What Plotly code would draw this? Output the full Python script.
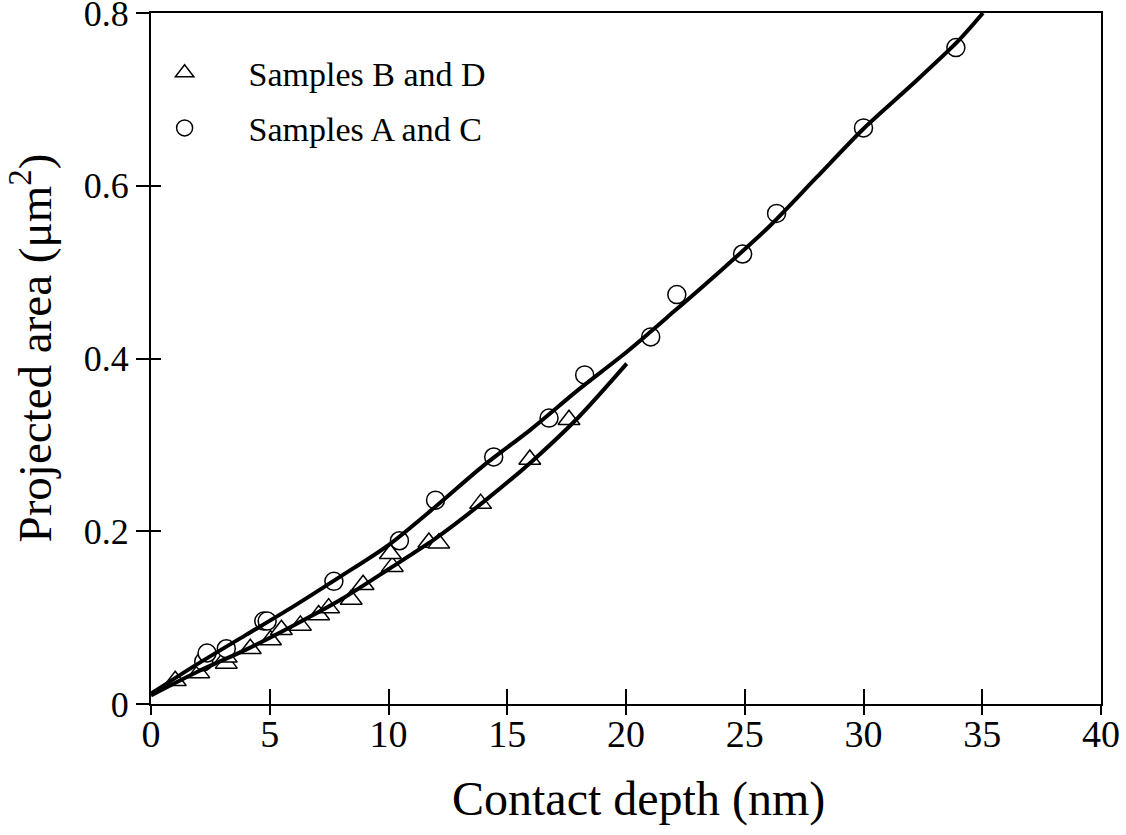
import plotly.graph_objects as go

# ---- data ----
circ_x = [2.22, 2.36, 3.17, 4.75, 4.89, 7.70, 10.46, 11.98, 14.43, 16.76, 18.26,
          21.04, 22.14, 24.91, 26.34, 30.00, 33.89]
circ_y = [0.049, 0.059, 0.064, 0.096, 0.096, 0.142, 0.189, 0.236, 0.286, 0.331, 0.381,
          0.425, 0.474, 0.521, 0.568, 0.667, 0.760]

tri_x = [1.02, 2.01, 3.17, 3.17, 4.18, 5.03, 5.49, 6.29, 7.06, 7.48, 8.43, 8.93,
         10.16, 10.08, 11.70, 12.12, 13.88, 15.95, 17.60]
tri_y = [0.027, 0.036, 0.047, 0.054, 0.064, 0.074, 0.086, 0.091, 0.103, 0.111, 0.121, 0.138,
         0.159, 0.174, 0.187, 0.186, 0.232, 0.283, 0.329]

fitAC_x = [0, 2, 4, 6, 8, 10, 12, 14, 16, 18, 20, 22, 24, 26, 28, 30, 32, 34, 35.03]
fitAC_y = [0.012, 0.047, 0.080, 0.113, 0.148, 0.184, 0.229, 0.276, 0.318, 0.364, 0.407,
           0.454, 0.502, 0.552, 0.609, 0.666, 0.716, 0.768, 0.800]

fitBD_x = [0, 2, 4, 6, 8, 10, 12, 14, 16, 18, 20.03]
fitBD_y = [0.010, 0.038, 0.063, 0.091, 0.121, 0.156, 0.192, 0.234, 0.280, 0.332, 0.394]

x_ticks = [0, 5, 10, 15, 20, 25, 30, 35, 40]
y_ticks = [0, 0.2, 0.4, 0.6, 0.8]
y_ticktext = ["0", "0.2", "0.4", "0.6", "0.8"]

FONT = "Liberation Serif, Times New Roman, serif"

fig = go.Figure()

fig.add_trace(go.Scatter(x=fitAC_x, y=fitAC_y, mode="lines", xaxis="x2", yaxis="y2",
                         line=dict(color="black", width=4, shape="spline", smoothing=0.8),
                         showlegend=False, hoverinfo="skip"))
fig.add_trace(go.Scatter(x=fitBD_x, y=fitBD_y, mode="lines", xaxis="x2", yaxis="y2",
                         line=dict(color="black", width=4, shape="spline", smoothing=0.8),
                         showlegend=False, hoverinfo="skip"))

fig.add_trace(go.Scatter(x=tri_x, y=tri_y, mode="markers", name="Samples B and D",
                         legendgroup="g1",
                         marker=dict(symbol="triangle-up", size=19, color="white",
                                     line=dict(color="black", width=1.5))))
fig.add_trace(go.Scatter(x=circ_x, y=circ_y, mode="markers", name="Samples A and C",
                         legendgroup="g2",
                         marker=dict(symbol="circle", size=18, color="white",
                                     line=dict(color="black", width=1.5))))

fig.update_layout(
    width=1126, height=835,
    margin=dict(l=151, r=25, t=13, b=131, autoexpand=False),
    paper_bgcolor="white", plot_bgcolor="white",
    font=dict(family=FONT, size=33, color="black"),
    showlegend=True,
    legend=dict(x=-0.032, y=0.955, xanchor="left", yanchor="top",
                bgcolor="rgba(0,0,0,0)", font=dict(size=34, family=FONT),
                tracegroupgap=8, traceorder="grouped", itemwidth=118),
    xaxis=dict(range=[0, 40], tickvals=x_ticks, ticks="outside", ticklen=9,
               tickwidth=1.5, tickcolor="black", showline=True, linecolor="black",
               linewidth=2, mirror=True, showgrid=False, zeroline=False,
               ticklabeloverflow="allow", automargin=False, ticklabelstandoff=-14,
               tickfont=dict(size=38, family=FONT)),
    xaxis2=dict(overlaying="x", matches="x", anchor="y2", side="bottom",
                range=[0, 40], tickvals=x_ticks, ticks="inside", ticklen=15,
                tickwidth=1.5, tickcolor="black", showticklabels=False,
                showline=False, showgrid=False, zeroline=False, automargin=False),
    yaxis=dict(range=[0, 0.8], tickvals=y_ticks, ticktext=y_ticktext,
               ticks="outside", ticklen=13, tickwidth=1.5, tickcolor="black",
               showline=True, linecolor="black", linewidth=2, mirror=True,
               showgrid=False, zeroline=False, ticklabeloverflow="allow",
               automargin=False,
               tickfont=dict(size=36, family=FONT)),
    yaxis2=dict(overlaying="y", matches="y", anchor="x2", side="left",
                range=[0, 0.8], tickvals=y_ticks, ticks="inside", ticklen=10,
                tickwidth=1.5, tickcolor="black", showticklabels=False,
                showline=False, showgrid=False, zeroline=False, automargin=False),
    annotations=[
        dict(text="Contact depth (nm)", xref="paper", yref="paper",
             x=0.513, y=-0.137, xanchor="center", yanchor="middle",
             showarrow=False, font=dict(size=48, family=FONT)),
        dict(text="Projected area (μm<sup>2</sup>)", xref="paper", yref="paper",
             x=-0.126, y=0.515, xanchor="center", yanchor="middle", textangle=-90,
             showarrow=False, font=dict(size=47, family=FONT)),
    ],
)

fig.write_html("out.html")
